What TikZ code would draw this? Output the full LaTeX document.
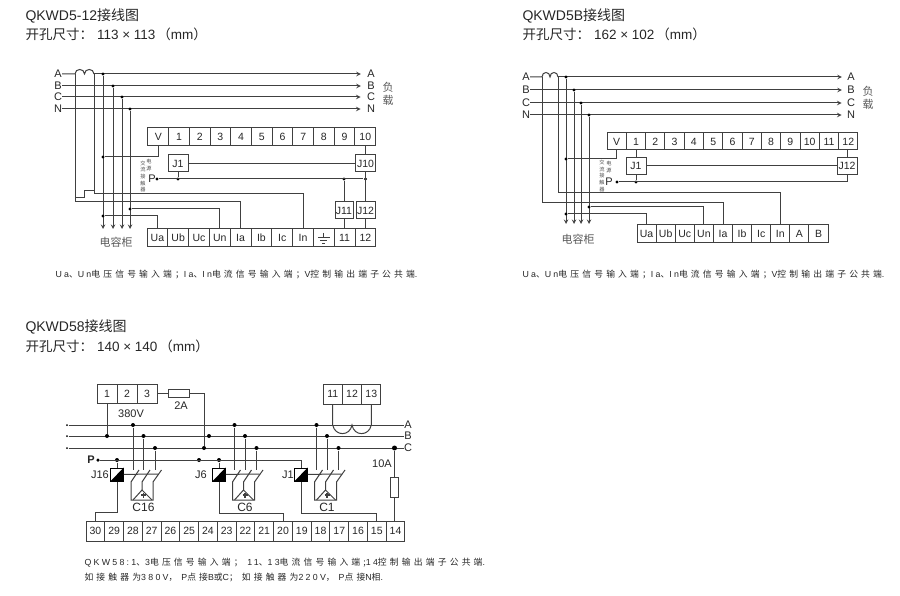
\documentclass[tikz,border=0pt]{standalone}
\usepackage{fontspec}
\setmainfont{Liberation Sans}
\newfontfamily\zh{Noto Sans CJK SC}
\newfontfamily\notelat[LetterSpace=26]{Liberation Sans}
\newfontfamily\notezh[LetterSpace=36]{Noto Sans CJK SC}
\newcommand{\nz}[1]{{\notezh #1}}
\usetikzlibrary{arrows.meta, positioning, calc}
\definecolor{wire}{gray}{0.25}
\tikzset{
    cell/.style={draw=wire, inner sep=0pt, font=\fontsize{10.5}{10.5}\selectfont, text=black!85},
    relaybox/.style={draw=wire, inner sep=0pt, minimum width=20pt, minimum height=17pt, font=\fontsize{10.5}{10.5}\selectfont, text=black!85},
    coilbox/.style={draw=black, line width=1pt, inner sep=0pt, minimum width=12.5pt, minimum height=13pt},
    dotn/.style={circle, fill=black, inner sep=0pt, minimum size=3.2pt},
    bigdot/.style={circle, fill=black, inner sep=0pt, minimum size=5pt},
    lab/.style={inner sep=0pt, font=\fontsize{11}{11}\selectfont, text=black!85},
    title/.style={anchor=west, inner sep=0pt, font=\fontsize{13.5}{13.5}\selectfont, text=black!85},
    head/.style={title, font=\fontsize{14}{14}\selectfont},
    note/.style={anchor=west, inner sep=0pt, font=\fontsize{8.8}{8.8}\notelat, text=black!85},
    zhlab/.style={inner sep=0pt, align=center, font=\fontsize{11}{13}\zh, text=black!65},
    tiny/.style={inner sep=0pt, align=center, font=\fontsize{5.2}{6.6}\zh, text=black!70}
}
\begin{document}
\begin{tikzpicture}[x=1pt, y=-1pt, >=stealth, line width=1pt, draw=wire]
    \useasboundingbox (0,0) rectangle (900,596);

    \node[head] (ta) at (25,16) {QKWD5-12{\zh 接线图}};
    \node[title] (tb) at (25,34) {{\zh 开孔尺寸：}\hspace{4pt}113 × 113\hspace{2pt}{\zh（}mm{\zh）}};
    \node[head] (tc) at (522,16) {QKWD5B{\zh 接线图}};
    \node[title] (td) at (522,34) {{\zh 开孔尺寸：}\hspace{4pt}162 × 102\hspace{2pt}{\zh（}mm{\zh）}};
    \node[head] (te) at (25,327) {QKWD58{\zh 接线图}};
    \node[title] (tf) at (25,346) {{\zh 开孔尺寸：}\hspace{4pt}140 × 140\hspace{2pt}{\zh（}mm{\zh）}};
    \node[note] (na) at (55,274) {Ua\nz{、}Un\nz{电压信号输入端；}Ia\nz{、}In\nz{电流信号输入端；}V\nz{控制输出端子公共端}.};
    \node[note] (nb) at (522,274) {Ua\nz{、}Un\nz{电压信号输入端；}Ia\nz{、}In\nz{电流信号输入端；}V\nz{控制输出端子公共端}.};
    \node[note] (nc) at (84,563) {QKW58:1\nz{、}3\nz{电压信号输入端；} 11\nz{、}13\nz{电流信号输入端;}14\nz{控制输出端子公共端}.};
    \node[note] (nd) at (84,578) {\nz{如接触器为}380V\nz{，}\hspace{4pt}P\nz{点接}B\nz{或}C\nz{；}\hspace{4pt}\nz{如接触器为}220V\nz{，}\hspace{4pt}P\nz{点接}N\nz{相}.};

    % QKWD5-12
    \foreach \n/\t/\y in {a/A/74,b/B/86,c/C/97,n/N/109}{
        \node[lab] (l1\n) at (58,\y) {\t};
        \node[lab] (r1\n) at (371,\y) {\t};
    }
    \coordinate (cta1) at (75,74);
    \coordinate (ctm1) at (84.5,74);
    \coordinate (ctb1) at (94,74);
    \draw (l1a) -- (cta1) .. controls (75,68) and (84.5,68) .. (ctm1) .. controls (84.5,68) and (94,68) .. (ctb1);
    \draw[->, shorten >=6pt] (ctb1) -- (r1a);
    \foreach \n in {b,c,n}{\draw[->, shorten >=6pt] (l1\n) -- (r1\n);}
    \foreach \n/\x/\y in {a/103/74,b/113/86,c/122/97,n/130/109}{
        \node[dotn] (d1\n) at (\x,\y) {};
        \coordinate (e1\n) at (\x,229);
        \draw[->] (d1\n) -- (e1\n);
    }
    \foreach \t [count=\i from 0] in {V,1,2,3,4,5,6,7,8,9,10}
        \node[cell, minimum width=20.7pt, minimum height=18pt] (top1\i) at (158.3+\i*20.7,137) {\t};
    \foreach \t [count=\i from 0] in {Ua,Ub,Uc,Un,Ia,Ib,Ic,In,,11,12}
        \node[cell, minimum width=20.8pt, minimum height=18pt] (bot1\i) at (157.4+\i*20.8,238) {\t};
    \node[relaybox] (j1a) at (178,163.5) {J1};
    \node[relaybox] (j10) at (365.5,163.5) {J10};
    \node[relaybox, minimum width=18pt] (j11) at (344,210.5) {J11};
    \node[relaybox, minimum width=19pt] (j12) at (365.5,210.5) {J12};
    \node[lab] (p1) at (152,179) {P};
    \node[dotn] (dp1) at (157,179) {};
    \node[dotn] (dj1) at (178,179) {};
    \node[dotn] (dj11) at (344,179) {};
    \node[dotn] (dj12) at (365.5,179) {};
    \node[dotn] (dv1) at (103,157) {};
    \node[dotn] (dua1) at (103,216) {};
    \node[dotn] (dun1) at (130,209) {};
    \coordinate (ia1) at (75,202);
    \coordinate (in1) at (94,194);
    \draw (top10) |- (dv1);
    \draw (j1a) -- (j10);
    \draw (j10) -- (j10 |- top110.south);
    \draw (dp1) -- (dj12);
    \draw (j1a) -- (dj1);
    \draw (j10) -- (j12);
    \draw (j11) -- (dj11);
    \draw (j11) -- (j11 |- bot19.north);
    \draw (j12) -- (j12 |- bot110.north);
    \draw (dua1) -| (bot10);
    \draw (dun1) -| (bot13);
    \draw (cta1) -- (ia1) -| (bot14);
    \draw (ctb1) -- (in1) -| (bot17);
    \draw (75,198) -- (84,198) -- (84,191) -- (94,191);
    \draw (bot18.center) ++(0,-5) -- ++(0,5) ++(-6,0) -- ++(12,0) ++(-9.5,3) -- ++(7,0) ++(-5,2.5) -- ++(3,0);
    \node[zhlab] (cap1) at (116,242) {电容柜};
    \node[zhlab] (load1) at (388,93.5) {负\\载};
    \node[tiny] (ac1) at (143,176.5) {交\\流\\接\\触\\器};
    \node[tiny] (pw1) at (149,165) {电\\源};

    % QKWD5B
    \foreach \n/\t/\y in {a/A/77,b/B/90,c/C/103,n/N/115}{
        \node[lab] (l2\n) at (526,\y) {\t};
        \node[lab] (r2\n) at (851,\y) {\t};
    }
    \coordinate (cta2) at (542,77);
    \coordinate (ctm2) at (550,77);
    \coordinate (ctb2) at (558,77);
    \draw (l2a) -- (cta2) .. controls (542,71) and (550,71) .. (ctm2) .. controls (550,71) and (558,71) .. (ctb2);
    \draw[->, shorten >=5pt] (ctb2) -- (r2a);
    \foreach \n in {b,c,n}{\draw[->, shorten >=5pt] (l2\n) -- (r2\n);}
    \foreach \n/\x/\y in {a/566/77,b/574/90,c/581/103,n/589/115}{
        \node[dotn] (d2\n) at (\x,\y) {};
        \coordinate (e2\n) at (\x,224);
        \draw[->] (d2\n) -- (e2\n);
    }
    \foreach \t [count=\i from 0] in {V,1,2,3,4,5,6,7,8,9,10,11,12}
        \node[cell, minimum width=19.3pt, minimum height=17pt] (top2\i) at (616.7+\i*19.3,141.5) {\t};
    \foreach \t [count=\i from 0] in {Ua,Ub,Uc,Un,Ia,Ib,Ic,In,A,B}
        \node[cell, minimum width=19.1pt, minimum height=18pt] (bot2\i) at (646.6+\i*19.1,234) {\t};
    \node[relaybox] (j2a) at (636,166) {J1};
    \node[relaybox] (j2b) at (847,166) {J12};
    \node[lab] (p2) at (609,182) {P};
    \node[dotn] (dp2) at (617,182) {};
    \node[dotn] (dj2) at (636,182) {};
    \node[dotn] (dv2) at (566,159) {};
    \node[dotn] (dua2) at (566,214) {};
    \node[dotn] (dun2) at (589,207) {};
    \coordinate (ia2) at (542,203);
    \coordinate (in2) at (558,193);
    \draw (top20) |- (dv2);
    \draw (top21) -- (j2a);
    \draw (j2b) -- (j2b |- top212.south);
    \draw (j2a) -- (j2b);
    \draw (j2a) -- (dj2);
    \draw (j2b) |- (dp2);
    \draw (dua2) -| (bot20);
    \draw (dun2) -| (bot23);
    \draw (cta2) -- (ia2) -| (bot24);
    \draw (ctb2) -- (in2) -| (bot27);
    \node[zhlab] (cap2) at (578,239) {电容柜};
    \node[zhlab] (load2) at (868,97.5) {负\\载};
    \node[tiny] (ac2) at (602,176) {交\\流\\接\\触\\器};
    \node[tiny] (pw2) at (609,167) {电\\源};

    % QKWD58
    \foreach \t [count=\i from 0] in {1,2,3}
        \node[cell, minimum width=20pt, minimum height=19pt] (s\t) at (107+\i*20,393.5) {\t};
    \foreach \t [count=\i from 0] in {11,12,13}
        \node[cell, minimum width=19.3pt, minimum height=20pt] (s\t) at (332.7+\i*19.3,394) {\t};
    \foreach \t [count=\i from 0] in {30,29,...,14}
        \node[cell, minimum width=18.76pt, minimum height=20pt] (u\t) at (95.4+\i*18.76,531) {\t};
    \foreach \n/\t/\y in {a/A/425,b/B/436,c/C/448}{
        \node[dotn, minimum size=2pt] (l3\n) at (67,\y) {};
        \node[lab] (r3\n) at (408,\y) {\t};
        \draw (l3\n) -- (r3\n);
    }
    \node[draw=wire, inner sep=0pt, minimum width=21pt, minimum height=8pt] (fu2) at (178.5,393) {};
    \node[lab] (l2a) at (181,406) {2A};
    \node[lab] (l380) at (131,414) {380V};
    \node[dotn, minimum size=4pt] (db1) at (107,436) {};
    \node[dotn, minimum size=4pt] (dc3) at (204,448) {};
    \node[dotn, minimum size=4pt] (db3) at (209,436) {};
    \draw (s1) -- (db1);
    \draw (fu2) -- (fu2 -| s3.east);
    \draw (fu2) -| (dc3);
    \node[bigdot] (dc14) at (394.5,448) {};
    \node[draw=wire, inner sep=0pt, minimum width=8pt, minimum height=20pt] (fu10) at (394.5,487) {};
    \node[lab] (l10a) at (382,464) {10A};
    \draw (dc14) -- (fu10);
    \draw (fu10) -- (fu10 |- u14.north);
    \coordinate (la3) at (332.7,425);
    \coordinate (lm3) at (352,425);
    \coordinate (lb3) at (371.3,425);
    \draw (s11) -- (la3) .. controls (335,436.5) and (350,436.5) .. (lm3) .. controls (354,436.5) and (369,436.5) .. (lb3) -- (s13);
    \node[lab, font=\bfseries\fontsize{11}{11}\selectfont] (p3) at (91,460) {P};
    \node[dotn, minimum size=3.5pt] (dp3) at (98,460) {};
    \node[dotn, minimum size=4pt] (dp16) at (117,460) {};
    \node[dotn, minimum size=4pt] (dp0) at (199,460) {};
    \node[dotn, minimum size=4pt] (dp6) at (219,460) {};
    \node[coilbox] (j16) at (117,474.5) {};
    \node[coilbox] (j6) at (219,474.5) {};
    \node[coilbox] (j1c) at (301,474.5) {};
    \foreach \n in {j16,j6,j1c}
        \fill[black] (\n.north east) -- (\n.south east) -- (\n.south west) -- cycle;
    \node[lab] (l16) at (100,475) {J16};
    \node[lab] (l6) at (201,475) {J6};
    \node[lab] (l1) at (288,475) {J1};
    \coordinate (k16) at (117,512);
    \coordinate (k6) at (219,513);
    \coordinate (k1) at (301,513);
    \draw (dp3) -| (j1c);
    \draw (dp16) -- (j16);
    \draw (dp6) -- (j6);
    \draw (j16) -- (k16) -| (u30);
    \draw (j6) -- (k6) -| (u20);
    \draw (j1c) -- (k1) -| (u15);
    \foreach \n/\x/\t/\j in {c16/0/C16/j16,c6/101.5/C6/j6,c1/183.5/C1/j1c}{
        \begin{scope}[xshift=\x pt]
            \node[dotn, minimum size=4pt] (\n a) at (133,425) {};
            \node[dotn, minimum size=4pt] (\n b) at (143.5,436) {};
            \node[dotn, minimum size=4pt] (\n c) at (155,448) {};
            \coordinate (\n p) at (142,490);
            \coordinate (\n q) at (133,500);
            \coordinate (\n r) at (152,500);
            \coordinate (\n s) at (131,500);
            \coordinate (\n t) at (153,500);
            \coordinate (\n h) at (158,474);
            \draw (\n a) -- (133,470);
            \draw (\n b) -- (143.5,470);
            \draw (\n c) -- (155,470);
            \draw (139,470) -- (131,482) -- (\n s) -- (\n t) -- (153,482) -- (161.5,470);
            \draw (150,470) -- (142,482) -- (\n p);
            \draw (\n q) -- (\n p) -- (\n r);
            \draw[line width=1.1pt] (141,495) -- (146,495) (143.5,492.5) -- (143.5,497.5);
            \node[lab, font=\fontsize{12}{12}\selectfont] (\n l) at (143.5,507) {\t};
        \end{scope}
        \draw (\j) -- (\n h);
    }
\end{tikzpicture}
\end{document}
